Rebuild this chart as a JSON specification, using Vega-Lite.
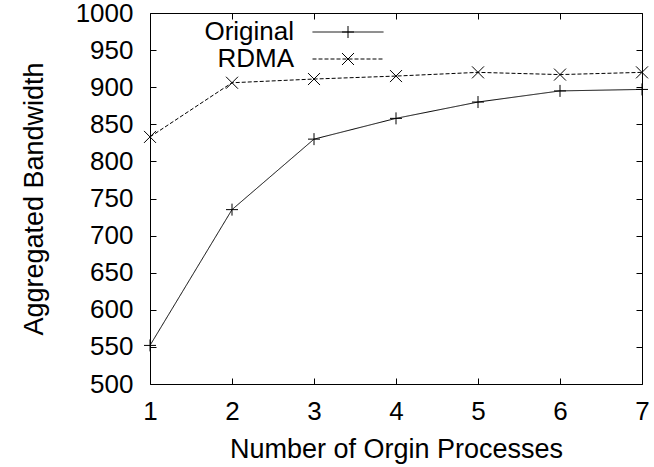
{
  "$schema": "https://vega.github.io/schema/vega-lite/v6.json",
  "width": 492,
  "height": 371,
  "autosize": {"type": "none"},
  "padding": {"left": 150, "top": 13, "right": 12, "bottom": 83},
  "background": "white",
  "config": {
    "view": {"stroke": "black", "strokeWidth": 1},
    "font": "Liberation Sans",
    "axis": {
      "domain": false,
      "grid": false,
      "tickColor": "black",
      "tickSize": -6,
      "tickWidth": 1,
      "labelColor": "black",
      "titleColor": "black",
      "labelFont": "Liberation Sans",
      "titleFont": "Liberation Sans",
      "labelFontSize": 26,
      "titleFontSize": 27,
      "titleFontWeight": "normal",
      "labelFlush": false,
      "labelOverlap": false
    }
  },
  "data": {
    "values": [
      {"processes": 1, "series": "Original", "bandwidth": 552},
      {"processes": 2, "series": "Original", "bandwidth": 735},
      {"processes": 3, "series": "Original", "bandwidth": 830},
      {"processes": 4, "series": "Original", "bandwidth": 858},
      {"processes": 5, "series": "Original", "bandwidth": 880},
      {"processes": 6, "series": "Original", "bandwidth": 895},
      {"processes": 7, "series": "Original", "bandwidth": 897},
      {"processes": 1, "series": "RDMA", "bandwidth": 833},
      {"processes": 2, "series": "RDMA", "bandwidth": 906},
      {"processes": 3, "series": "RDMA", "bandwidth": 911},
      {"processes": 4, "series": "RDMA", "bandwidth": 915},
      {"processes": 5, "series": "RDMA", "bandwidth": 920},
      {"processes": 6, "series": "RDMA", "bandwidth": 917},
      {"processes": 7, "series": "RDMA", "bandwidth": 920}
    ]
  },
  "layer": [
    {
      "mark": {"type": "line", "color": "black", "strokeWidth": 1},
      "encoding": {
        "x": {
          "field": "processes", "type": "quantitative",
          "scale": {"domain": [1, 7], "nice": false, "zero": false},
          "axis": {"orient": "bottom", "values": [1, 2, 3, 4, 5, 6, 7], "format": "d", "title": "Number of Orgin Processes", "labelPadding": 20, "titlePadding": 12}
        },
        "y": {
          "field": "bandwidth", "type": "quantitative",
          "scale": {"domain": [500, 1000], "nice": false, "zero": false},
          "axis": {"orient": "left", "values": [500, 550, 600, 650, 700, 750, 800, 850, 900, 950, 1000], "format": "d", "title": "Aggregated Bandwidth", "labelPadding": 23, "titlePadding": 27}
        },
        "strokeDash": {
          "field": "series", "type": "nominal",
          "scale": {"domain": ["RDMA", "Original"], "range": [[4, 2], [1, 0]]},
          "legend": {
            "title": null,
            "orient": "none",
            "legendX": 185,
            "legendY": 6,
            "padding": 0,
            "rowPadding": 1,
            "values": ["Original", "RDMA"],
            "labelFont": "Liberation Sans",
            "labelFontSize": 26,
            "labelColor": "transparent",
            "labelAlign": "right",
            "labelOffset": -67,
            "labelLimit": 300,
            "symbolType": "M-5.917,0L5.917,0",
            "symbolSize": 144,
            "symbolStrokeWidth": 1,
            "symbolStrokeColor": "black",
            "symbolFillColor": "transparent"
          }
        }
      }
    },
    {
      "mark": {"type": "point", "filled": false, "color": "black", "size": 144, "strokeWidth": 1, "opacity": 1},
      "encoding": {
        "x": {"field": "processes", "type": "quantitative", "axis": null},
        "y": {"field": "bandwidth", "type": "quantitative", "axis": null},
        "shape": {
          "field": "series", "type": "nominal",
          "scale": {"domain": ["Original", "RDMA"], "range": ["M-1,0L1,0M0,-1L0,1", "M-1,-1L1,1M-1,1L1,-1"]},
          "legend": {
            "title": null,
            "orient": "none",
            "legendX": 185,
            "legendY": 6,
            "padding": 0,
            "rowPadding": 1,
            "labelFont": "Liberation Sans",
            "labelFontSize": 26,
            "labelColor": "black",
            "labelAlign": "right",
            "labelOffset": -67,
            "labelLimit": 300,
            "symbolSize": 144,
            "symbolStrokeWidth": 1,
            "symbolStrokeColor": "black",
            "symbolFillColor": "transparent"
          }
        }
      }
    },
    {
      "mark": {"type": "point", "opacity": 0},
      "encoding": {
        "x": {"field": "processes", "type": "quantitative", "axis": {"orient": "top", "values": [1, 2, 3, 4, 5, 6, 7], "labels": false, "title": null}},
        "y": {"field": "bandwidth", "type": "quantitative", "axis": {"orient": "right", "values": [500, 550, 600, 650, 700, 750, 800, 850, 900, 950, 1000], "labels": false, "title": null}}
      }
    }
  ],
  "resolve": {"axis": {"x": "independent", "y": "independent"}}
}
